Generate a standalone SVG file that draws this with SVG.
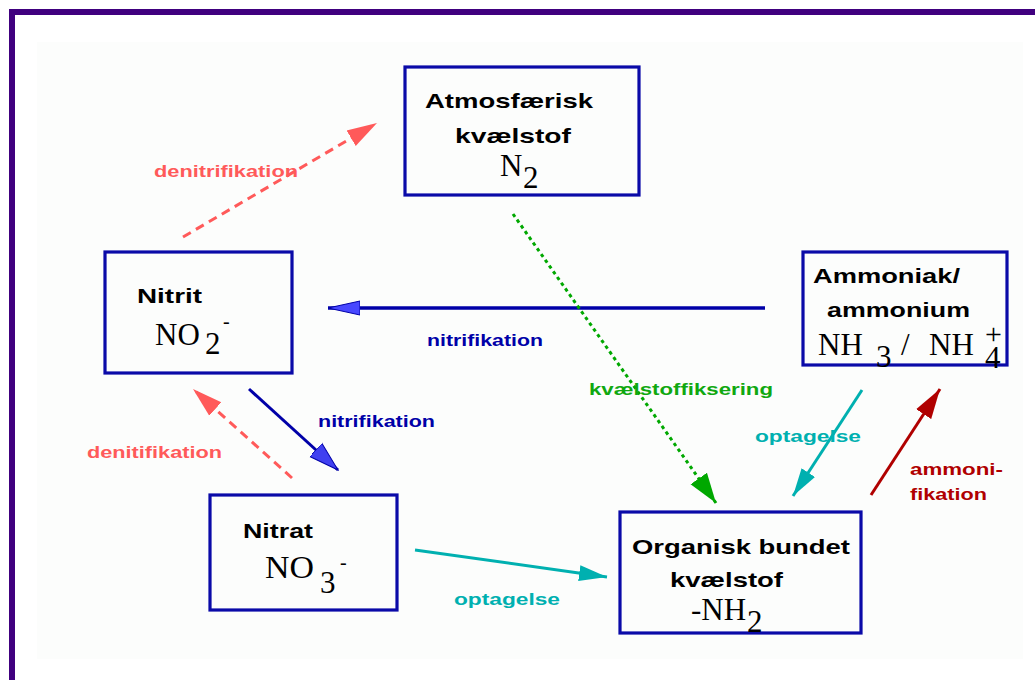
<svg xmlns="http://www.w3.org/2000/svg" width="1035" height="680" viewBox="0 0 1035 680">
<style>
.box{fill:none;stroke:#0a0aa8;stroke-width:3.2}
.t{font-family:"Liberation Sans",Arial,sans-serif;font-weight:bold;font-size:21px;fill:#000}
.f{font-family:"Liberation Serif","Times New Roman",serif;font-size:31px;fill:#000}
.sm{font-size:20px}
.lb{font-family:"Liberation Sans",Arial,sans-serif;font-weight:bold;font-size:17px}
.red{fill:#ff5a5a}.blue{fill:#0000a8}.green{fill:#10a810}.teal{fill:#00b0b0}.dred{fill:#b00000}
</style>
<defs>
<marker id="hRed" markerUnits="userSpaceOnUse" markerWidth="32" markerHeight="20" refX="30" refY="10" orient="auto"><path d="M0,1 L30,10 L0,19 Z" fill="#ff5a5a"/></marker>
<marker id="hBlue" markerUnits="userSpaceOnUse" markerWidth="34" markerHeight="18" refX="32" refY="8" orient="auto"><path d="M0,1 L32,8 L0,15 Z" fill="#4848ff" stroke="#0000a8" stroke-width="1"/></marker>
<marker id="hBlue2" markerUnits="userSpaceOnUse" markerWidth="32" markerHeight="20" refX="30" refY="10" orient="auto"><path d="M0,1 L30,10 L0,19 Z" fill="#4040f0" stroke="#0000a8" stroke-width="1"/></marker>
<marker id="hGreen" markerUnits="userSpaceOnUse" markerWidth="32" markerHeight="22" refX="30" refY="11" orient="auto"><path d="M0,1 L30,11 L0,21 Z" fill="#00a800"/></marker>
<marker id="hTeal" markerUnits="userSpaceOnUse" markerWidth="30" markerHeight="18" refX="28" refY="9" orient="auto"><path d="M0,1 L28,9 L0,17 Z" fill="#00b0b0"/></marker>
<marker id="hDred" markerUnits="userSpaceOnUse" markerWidth="32" markerHeight="20" refX="30" refY="10" orient="auto"><path d="M0,1 L30,10 L0,19 Z" fill="#b00000"/></marker>
</defs>
<rect x="0" y="0" width="1035" height="680" fill="#fff"/>
<rect x="37" y="42" width="986" height="617" fill="#fcfdfc"/>
<rect x="12" y="12" width="1040" height="690" fill="none" stroke="#40007f" stroke-width="6"/>

<g id="connectors">
<line x1="183" y1="237" x2="377" y2="123" stroke="#ff5a5a" stroke-width="3" stroke-dasharray="9,6" marker-end="url(#hRed)"/>
<line x1="765" y1="308" x2="328" y2="308" stroke="#0000a8" stroke-width="3.5" marker-end="url(#hBlue)"/>
<line x1="513" y1="214" x2="716" y2="503" stroke="#00a800" stroke-width="3" stroke-dasharray="3.5,3.5" marker-end="url(#hGreen)"/>
<line x1="249" y1="389" x2="338" y2="470" stroke="#0000a8" stroke-width="3" marker-end="url(#hBlue2)"/>
<line x1="292" y1="478" x2="193" y2="389" stroke="#ff5a5a" stroke-width="3" stroke-dasharray="9,6" marker-end="url(#hRed)"/>
<line x1="415" y1="550" x2="607" y2="577" stroke="#00b0b0" stroke-width="3" marker-end="url(#hTeal)"/>
<line x1="862" y1="390" x2="793" y2="496" stroke="#00b0b0" stroke-width="3" marker-end="url(#hTeal)"/>
<line x1="871" y1="495" x2="940" y2="389" stroke="#b00000" stroke-width="3" marker-end="url(#hDred)"/>
<text class="lb red" x="154" y="177" textLength="144" lengthAdjust="spacingAndGlyphs">denitrifikation</text>
<text class="lb blue" x="427" y="346" textLength="116" lengthAdjust="spacingAndGlyphs">nitrifikation</text>
<text class="lb green" x="589" y="395" textLength="184" lengthAdjust="spacingAndGlyphs">kvælstoffiksering</text>
<text class="lb blue" x="318" y="427" textLength="117" lengthAdjust="spacingAndGlyphs">nitrifikation</text>
<text class="lb red" x="87" y="458" textLength="135" lengthAdjust="spacingAndGlyphs">denitifikation</text>
<text class="lb teal" x="454" y="605" textLength="106" lengthAdjust="spacingAndGlyphs">optagelse</text>
<text class="lb teal" x="755" y="442" textLength="106" lengthAdjust="spacingAndGlyphs">optagelse</text>
<text class="lb dred" x="910" y="475" textLength="93" lengthAdjust="spacingAndGlyphs">ammoni-</text>
<text class="lb dred" x="910" y="500" textLength="77" lengthAdjust="spacingAndGlyphs">fikation</text>
</g>

<g id="atmosfaerisk">
<rect class="box" x="405" y="67" width="234" height="128"/>
<text class="t" x="425" y="108" textLength="168" lengthAdjust="spacingAndGlyphs">Atmosfærisk</text>
<text class="t" x="455" y="143" textLength="116" lengthAdjust="spacingAndGlyphs">kvælstof</text>
<text class="f"><tspan x="500" y="176">N</tspan><tspan x="523" y="188">2</tspan></text>
</g>

<g id="nitrit">
<rect class="box" x="105" y="252" width="187" height="121"/>
<text class="t" x="137" y="303" textLength="65" lengthAdjust="spacingAndGlyphs">Nitrit</text>
<text class="f"><tspan x="155" y="345">NO</tspan><tspan x="205" y="354">2</tspan><tspan class="sm" x="223" y="328">-</tspan></text>
</g>

<g id="ammoniak">
<rect class="box" x="803" y="252" width="204" height="113"/>
<text class="t" x="813" y="283" textLength="147" lengthAdjust="spacingAndGlyphs">Ammoniak/</text>
<text class="t" x="827" y="317" textLength="143" lengthAdjust="spacingAndGlyphs">ammonium</text>
<text class="f"><tspan x="818" y="355">NH</tspan><tspan x="876" y="367">3</tspan><tspan x="901" y="355">/</tspan><tspan x="929" y="355">NH</tspan><tspan x="985" y="368">4</tspan></text>
<text class="f" x="985" y="344" style="font-size:30px">+</text>
</g>

<g id="nitrat">
<rect class="box" x="210" y="495" width="187" height="115"/>
<text class="t" x="243" y="538" textLength="70" lengthAdjust="spacingAndGlyphs">Nitrat</text>
<text class="f"><tspan x="265" y="578" textLength="49" lengthAdjust="spacingAndGlyphs">NO</tspan><tspan x="320" y="593">3</tspan><tspan class="sm" x="340" y="569">-</tspan></text>
</g>

<g id="organisk">
<rect class="box" x="620" y="512" width="241" height="121"/>
<text class="t" x="632" y="554" textLength="218" lengthAdjust="spacingAndGlyphs">Organisk bundet</text>
<text class="t" x="670" y="587" textLength="113" lengthAdjust="spacingAndGlyphs">kvælstof</text>
<text class="f"><tspan x="691" y="620">-NH</tspan><tspan x="747" y="632">2</tspan></text>
</g>
</svg>
